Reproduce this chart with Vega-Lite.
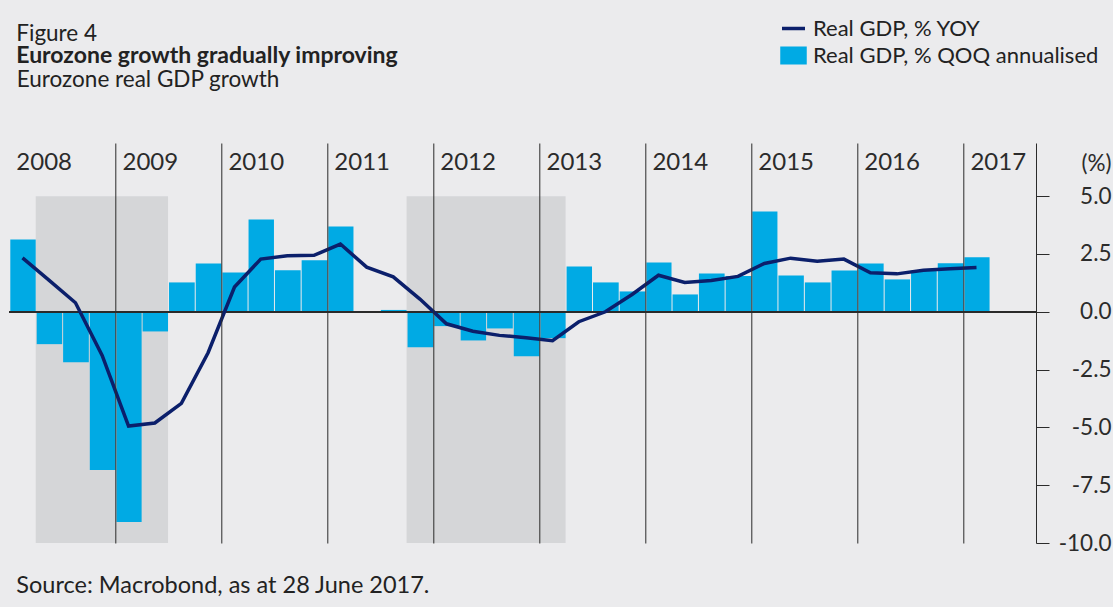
{
  "$schema": "https://vega.github.io/schema/vega-lite/v6.json",
  "width": 1026.7,
  "height": 400,
  "autosize": "none",
  "padding": {"left": 9.3, "top": 143, "right": 77, "bottom": 64},
  "background": "#ebebed",
  "config": {"font": "Lato", "view": {"stroke": null}},
  "title": {
    "text": "Figure 4",
    "subtitle": "Eurozone growth gradually improving",
    "anchor": "start",
    "frame": "group",
    "orient": "top",
    "fontSize": 22.5,
    "fontWeight": "normal",
    "color": "#222222",
    "subtitleFontSize": 23,
    "subtitleFontWeight": "bold",
    "subtitleColor": "#222222",
    "subtitlePadding": 0,
    "offset": -53,
    "dx": 7
  },
  "datasets": {
    "gdp": [
      {"date": "2008-01-01", "qoq": 3.13, "yoy": 2.33},
      {"date": "2008-04-01", "qoq": -1.40, "yoy": 1.37},
      {"date": "2008-07-01", "qoq": -2.18, "yoy": 0.39},
      {"date": "2008-10-01", "qoq": -6.84, "yoy": -1.89},
      {"date": "2009-01-01", "qoq": -9.09, "yoy": -4.94},
      {"date": "2009-04-01", "qoq": -0.85, "yoy": -4.81},
      {"date": "2009-07-01", "qoq": 1.27, "yoy": -3.96},
      {"date": "2009-10-01", "qoq": 2.09, "yoy": -1.77},
      {"date": "2010-01-01", "qoq": 1.70, "yoy": 1.07},
      {"date": "2010-04-01", "qoq": 3.99, "yoy": 2.28},
      {"date": "2010-07-01", "qoq": 1.80, "yoy": 2.42},
      {"date": "2010-10-01", "qoq": 2.23, "yoy": 2.44},
      {"date": "2011-01-01", "qoq": 3.69, "yoy": 2.93},
      {"date": "2011-04-01", "qoq": 0.0, "yoy": 1.93},
      {"date": "2011-07-01", "qoq": 0.08, "yoy": 1.51},
      {"date": "2011-10-01", "qoq": -1.53, "yoy": 0.55},
      {"date": "2012-01-01", "qoq": -0.62, "yoy": -0.52},
      {"date": "2012-04-01", "qoq": -1.24, "yoy": -0.84},
      {"date": "2012-07-01", "qoq": -0.72, "yoy": -1.02},
      {"date": "2012-10-01", "qoq": -1.92, "yoy": -1.12},
      {"date": "2013-01-01", "qoq": -1.14, "yoy": -1.25},
      {"date": "2013-04-01", "qoq": 1.96, "yoy": -0.43},
      {"date": "2013-07-01", "qoq": 1.27, "yoy": 0.0},
      {"date": "2013-10-01", "qoq": 0.88, "yoy": 0.75},
      {"date": "2014-01-01", "qoq": 2.13, "yoy": 1.58},
      {"date": "2014-04-01", "qoq": 0.75, "yoy": 1.27},
      {"date": "2014-07-01", "qoq": 1.66, "yoy": 1.35},
      {"date": "2014-10-01", "qoq": 1.55, "yoy": 1.53},
      {"date": "2015-01-01", "qoq": 4.34, "yoy": 2.09},
      {"date": "2015-04-01", "qoq": 1.57, "yoy": 2.32},
      {"date": "2015-07-01", "qoq": 1.27, "yoy": 2.19},
      {"date": "2015-10-01", "qoq": 1.79, "yoy": 2.28},
      {"date": "2016-01-01", "qoq": 2.09, "yoy": 1.69},
      {"date": "2016-04-01", "qoq": 1.40, "yoy": 1.64},
      {"date": "2016-07-01", "qoq": 1.78, "yoy": 1.80},
      {"date": "2016-10-01", "qoq": 2.10, "yoy": 1.86},
      {"date": "2017-01-01", "qoq": 2.36, "yoy": 1.92}
    ],
    "rec": [
      {"start": "2008-04-01", "end": "2009-07-01"},
      {"start": "2011-10-01", "end": "2013-04-01"}
    ]
  },
  "resolve": {"axis": {"x": "independent"}},
  "layer": [
    {
      "data": {"name": "rec"},
      "mark": {"type": "rect", "color": "#d5d6d8"},
      "encoding": {
        "x": {
          "field": "start",
          "type": "temporal",
          "scale": {"type": "utc", "domain": [{"year": 2008, "month": 1, "date": 1, "utc": true}, {"year": 2017, "month": 9, "date": 8, "utc": true}]},
          "axis": {
            "orient": "top",
            "values": [
              {"year": 2008, "month": 1, "date": 1, "utc": true},
              {"year": 2009, "month": 1, "date": 1, "utc": true},
              {"year": 2010, "month": 1, "date": 1, "utc": true},
              {"year": 2011, "month": 1, "date": 1, "utc": true},
              {"year": 2012, "month": 1, "date": 1, "utc": true},
              {"year": 2013, "month": 1, "date": 1, "utc": true},
              {"year": 2014, "month": 1, "date": 1, "utc": true},
              {"year": 2015, "month": 1, "date": 1, "utc": true},
              {"year": 2016, "month": 1, "date": 1, "utc": true},
              {"year": 2017, "month": 1, "date": 1, "utc": true}
            ],
            "labelExpr": "utcFormat(datum.value, '%Y')",
            "labelAlign": "left",
            "labelBaseline": "alphabetic",
            "labelPadding": -26,
            "labelOffset": 6.5,
            "labelFontSize": 24,
            "labelColor": "#2b2b2b",
            "labelFlush": false,
            "labelOverlap": false,
            "labelBound": false,
            "ticks": false,
            "tickSize": 0,
            "domain": false,
            "grid": true,
            "gridColor": {"condition": {"test": "utcyear(datum.value) == 2008", "value": "transparent"}, "value": "#2b2b2b"},
            "gridWidth": 1,
            "gridOpacity": 1,
            "zindex": 1,
            "title": "Eurozone real GDP growth",
            "titleX": 7,
            "titleY": -57,
            "titleAlign": "left",
            "titleAnchor": null,
            "titleBaseline": "alphabetic",
            "titleFontSize": 22.5,
            "titleFontWeight": "normal",
            "titleColor": "#222222"
          }
        },
        "x2": {"field": "end"},
        "y": {
          "datum": 5,
          "type": "quantitative",
          "scale": {"domain": [-10, 7.3], "nice": false, "zero": false},
          "axis": {
            "orient": "right",
            "values": [-10, -7.5, -5, -2.5, 0, 2.5, 5],
            "labelExpr": "(datum.value < 0 ? '-' : '') + format(abs(datum.value), '.1f')",
            "labelAlign": "right",
            "labelBaseline": "middle",
            "labelPadding": 62,
            "labelFontSize": 22.5,
            "labelColor": "#2b2b2b",
            "tickSize": 13,
            "tickColor": "#2b2b2b",
            "tickWidth": 1,
            "domainColor": "#2b2b2b",
            "domainWidth": 1,
            "grid": false,
            "title": "(%)",
            "titleAngle": 0,
            "titleX": 75,
            "titleY": 27,
            "titleAlign": "right",
            "titleBaseline": "alphabetic",
            "titleFontSize": 22.5,
            "titleFontWeight": "normal",
            "titleColor": "#2b2b2b"
          }
        },
        "y2": {"datum": -10}
      }
    },
    {
      "data": {"name": "gdp"},
      "mark": {"type": "bar"},
      "encoding": {
        "x": {
          "field": "date",
          "timeUnit": "utcyearquarter",
          "type": "temporal",
          "axis": {
            "orient": "bottom",
            "labels": false,
            "ticks": false,
            "domain": false,
            "grid": false,
            "title": "Source: Macrobond, as at 28 June 2017.",
            "titleX": 6.5,
            "titleY": 49,
            "titleAlign": "left",
            "titleAnchor": null,
            "titleBaseline": "alphabetic",
            "titleFontSize": 23.5,
            "titleFontWeight": "normal",
            "titleColor": "#222222"
          }
        },
        "y": {"field": "qoq", "type": "quantitative", "title": "(%)"},
        "color": {"datum": "Real GDP, % QOQ annualised"}
      }
    },
    {
      "data": {"name": "gdp"},
      "mark": {"type": "rule", "color": "#2b2b2b", "strokeWidth": 1.3},
      "encoding": {"y": {"datum": 0, "type": "quantitative", "title": "(%)"}}
    },
    {
      "data": {"name": "gdp"},
      "mark": {"type": "line", "strokeWidth": 3.5},
      "encoding": {
        "x": {"field": "date", "timeUnit": "utcyearquarter", "type": "temporal", "bandPosition": 0.5, "axis": null},
        "y": {"field": "yoy", "type": "quantitative", "title": "(%)"},
        "color": {
          "datum": "Real GDP, % YOY",
          "scale": {"domain": ["Real GDP, % YOY", "Real GDP, % QOQ annualised"], "range": ["#0b1f6b", "#00aae4"]},
          "legend": {
            "orient": "none",
            "legendX": 770.7,
            "legendY": -128,
            "title": null,
            "padding": 0,
            "symbolSize": 529,
            "symbolStrokeWidth": 3.5,
            "labelFontSize": 22,
            "labelColor": "#222222",
            "labelOffset": 6,
            "labelLimit": 400,
            "rowPadding": 1,
            "encode": {
              "symbols": {
                "update": {
                  "shape": {"signal": "datum.value === 'Real GDP, % YOY' ? 'M-1,0H1' : 'M-1,-0.62H1V0.62H-1Z'"},
                  "fill": {"signal": "datum.value === 'Real GDP, % YOY' ? 'transparent' : '#00aae4'"},
                  "stroke": {"signal": "datum.value === 'Real GDP, % YOY' ? '#0b1f6b' : 'transparent'"},
                  "strokeWidth": {"value": 3.5},
                  "opacity": {"value": 1},
                  "fillOpacity": {"value": 1},
                  "strokeOpacity": {"value": 1}
                }
              }
            }
          }
        }
      }
    }
  ]
}
